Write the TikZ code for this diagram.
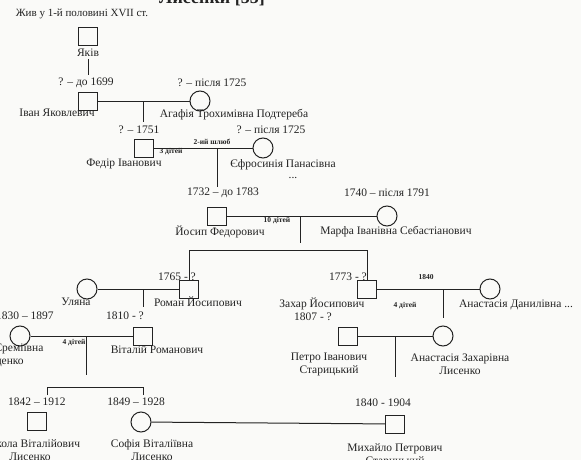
\documentclass[tikz,border=0pt]{standalone}
\usepackage{fontspec}
\setmainfont{Liberation Serif}
\definecolor{inkc}{RGB}{35,35,35}
\definecolor{paper}{RGB}{250,250,248}
\begin{document}
\begin{tikzpicture}[x=1pt,y=-1pt,
  ink/.style={draw=inkc, line width=1pt},
  male/.style={ink, rectangle, minimum width=19pt, minimum height=18pt, inner sep=0pt},
  female/.style={ink, circle, minimum size=20pt, inner sep=0pt},
  lbl/.style={text=inkc, font=\fontsize{11.5}{13}\selectfont, inner sep=0pt, align=center},
  tiny/.style={text=inkc, font=\fontsize{7.5}{8}\selectfont\bfseries, inner sep=0pt},
  note/.style={text=inkc, font=\fontsize{11}{12}\selectfont, inner sep=0pt},
  title/.style={text=inkc, font=\fontsize{18}{19}\selectfont\bfseries, inner sep=0pt}
]
\path[use as bounding box, fill=paper] (0,0) rectangle (581,460);

% header
\node[title, anchor=base] (title) at (212,4) {Лисенки [55]};
\node[note] (noteL) at (82,14) {Жив у 1-й половині XVII ст.};

% Yakiv
\node[male] (yakiv) at (88,37) {};
\node[lbl] (yakivL) at (88,53) {Яків};
\coordinate (yk1) at (88,59);
\coordinate (yk2) at (88,75);
\draw[ink] (yk1) -- (yk2);

% Ivan + Agafia
\node[lbl] (d1) at (86,83) {? – до 1699};
\node[lbl] (d2) at (212,83) {? – після 1725};
\node[male] (ivan) at (88,101) {};
\node[female] (agafia) at (200,101) {};
\draw[ink] (ivan) -- (agafia);
\coordinate (m1) at (143,101);
\coordinate (m1e) at (143,122);
\draw[ink] (m1) -- (m1e);
\node[lbl] (ivanL) at (57,113) {Іван Яковлевич};
\node[lbl] (agafiaL) at (234,115) {Агафія Трохимівна Подтереба};

% Fedir + Yefrosynia
\node[lbl] (d3) at (139,130) {? – 1751};
\node[lbl] (d4) at (271,130) {? – після 1725};
\node[male] (fedir) at (144,148) {};
\node[female] (yefros) at (263,148) {};
\draw[ink] (fedir) -- (yefros);
\node[tiny] (t1) at (212,142) {2-ий шлюб};
\node[tiny] (t2) at (171,152) {3 дітей};
\coordinate (m2) at (217,148);
\coordinate (m2e) at (217,187);
\draw[ink] (m2) -- (m2e);
\node[lbl] (fedirL) at (124,164) {Федір Іванович};
\node[lbl] (yefrosL) at (283,165) {Єфросинія Панасівна};
\node[lbl] (dots) at (293,178) {...};

% Yosyp + Marfa
\node[lbl] (d5) at (223,193) {1732 – до 1783};
\node[lbl] (d6) at (387,193) {1740 – після 1791};
\node[male] (yosyp) at (217,216) {};
\node[female] (marfa) at (387,216) {};
\draw[ink] (yosyp) -- (marfa);
\node[tiny] (t3) at (277,221) {10 дітей};
\coordinate (m3) at (300,216);
\coordinate (m3e) at (300,243);
\draw[ink] (m3) -- (m3e);
\node[lbl] (yosypL) at (220,232) {Йосип Федорович};
\node[lbl] (marfaL) at (396,232) {Марфа Іванівна Себастіанович};

% Roman + Ulyana
\node[lbl] (d7) at (177,277) {1765 - ?};
\node[lbl] (d8) at (348,277) {1773 - ?};
\node[male] (roman) at (189,289) {};
\node[female] (ulyana) at (87,289) {};
\draw[ink] (ulyana) -- (roman);
\coordinate (m4) at (143,289);
\coordinate (m4e) at (143,307);
\draw[ink] (m4) -- (m4e);
\node[lbl] (ulyanaL) at (76,302) {Уляна};
\node[lbl] (romanL) at (198,302) {Роман Йосипович};

% Zakhar + Anastasia D.
\node[male] (zakhar) at (367,289) {};
\node[female] (anastD) at (490,289) {};
\draw[ink] (zakhar) -- (anastD);
\coordinate (b1) at (189,250);
\draw[ink] (roman.north) -- (roman.north |- b1) -- (zakhar.north |- b1) -- (zakhar.north);
\node[tiny] (t4) at (426,277) {1840};
\coordinate (m5) at (443,289);
\coordinate (m5e) at (443,318);
\draw[ink] (m5) -- (m5e);
\node[tiny] (t5) at (405,306) {4 дітей};
\node[lbl] (zakharL) at (322,304) {Захар Йосипович};
\node[lbl] (anastDL) at (516,305) {Анастасія Данилівна ...};

% Petro + Anastasia Z.
\node[lbl] (d9) at (313,317) {1807 - ?};
\node[male] (petro) at (348,336) {};
\node[female] (anastZ) at (443,336) {};
\draw[ink] (petro) -- (anastZ);
\coordinate (m6) at (395,336);
\coordinate (m6e) at (395,377);
\draw[ink] (m6) -- (m6e);
\node[lbl] (petroL) at (329,364) {Петро Іванович\\Старицький};
\node[lbl] (anastZL) at (460,364) {Анастасія Захарівна\\Лисенко};

% Olha + Vitaliy
\node[lbl] (d10) at (25,316) {1830 – 1897};
\node[lbl] (d11) at (125,316) {1810 - ?};
\node[female] (olha) at (20,336) {};
\node[male] (vitaliy) at (143,336) {};
\draw[ink] (olha) -- (vitaliy);
\node[tiny] (t6) at (74,343) {4 дітей};
\coordinate (m7) at (86,336);
\coordinate (m7e) at (86,375);
\draw[ink] (m7) -- (m7e);
\node[lbl] (olhaL) at (3,355) {Ольга Єреміївна\\Луценко};
\node[lbl] (vitaliyL) at (157,350) {Віталій Романович};

% children of Vitaliy
\coordinate (b2l) at (47,387);
\coordinate (b2r) at (143,387);
\coordinate (b2ld) at (47,395);
\coordinate (b2rd) at (143,395);
\draw[ink] (b2ld) -- (b2l) -- (b2r) -- (b2rd);
\node[lbl] (d12) at (37,402) {1842 – 1912};
\node[lbl] (d13) at (136,402) {1849 – 1928};
\node[lbl] (d14) at (383,403) {1840 - 1904};
\node[male] (mykola) at (37,421) {};
\node[female] (sofia) at (141,422) {};
\node[male] (mykhailo) at (395,424) {};
\draw[ink] (sofia) -- (mykhailo);
\node[lbl] (mykolaL) at (30,450) {Микола Віталійович\\Лисенко};
\node[lbl] (sofiaL) at (152,450) {Софія Віталіївна\\Лисенко};
\node[lbl] (mykhailoL) at (395,455) {Михайло Петрович\\Старицький};
\end{tikzpicture}
\end{document}
